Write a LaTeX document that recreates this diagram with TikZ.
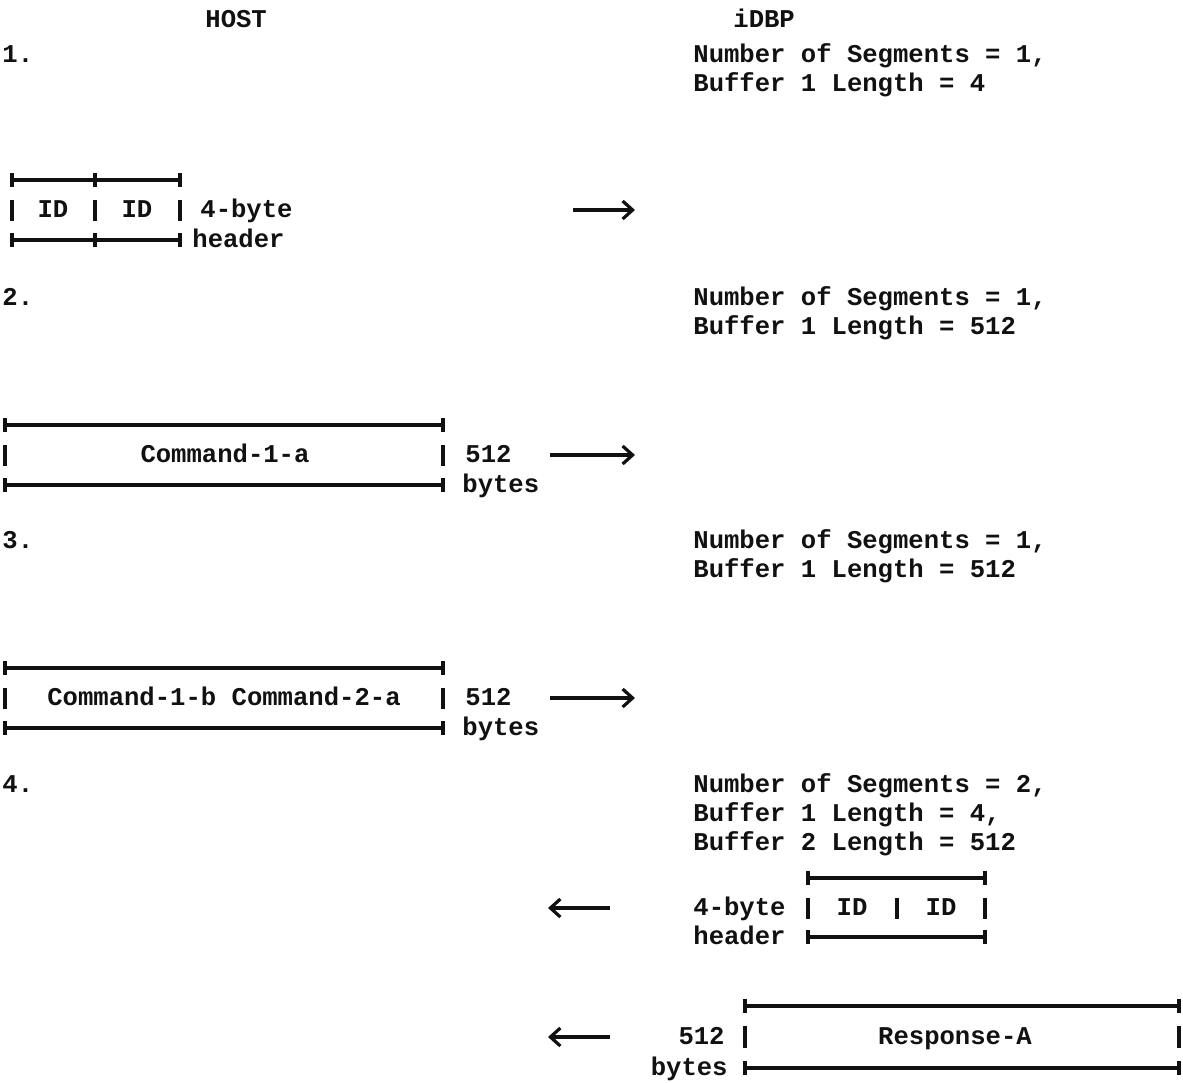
\documentclass[tikz,border=0pt]{standalone}
\usepackage{fontspec}
\setmonofont{Liberation Mono}
\usetikzlibrary{arrows.meta}

\definecolor{typeInk}{HTML}{111111}

\begin{document}
\begin{tikzpicture}[x=0.5pt, y=-0.5pt,
    txt/.style={font=\ttfamily\bfseries\fontsize{12.8}{14.5}\selectfont, text=typeInk, inner sep=0pt, anchor=mid west, yshift=-1.5pt},
    rule/.style={typeInk, line width=1.9pt},
    bar/.style={typeInk, line width=2pt},
    flow/.style={typeInk, line width=1.9pt, -{Straight Barb[length=5pt, width=9pt, line width=1.6pt]}}]
    \useasboundingbox (0,0) rectangle (1183,1082);

    % column titles
    \node[txt] (host) at (205,20) {HOST};
    \node[txt] (idbp) at (733,20) {iDBP};

    % step 1: 4-byte header
    \node[txt] (stepA) at (2,55) {1.};
    \node[txt] (segA) at (693,55) {Number of Segments = 1,};
    \node[txt] (bufA) at (693,84) {Buffer 1 Length = 4};
    \draw[rule] (12,180) -- (180,180) (12,240) -- (180,240);
    \draw[rule] (12,173) -- (12,187) (95,173) -- (95,187) (180,173) -- (180,187);
    \draw[rule] (12,233) -- (12,247) (95,233) -- (95,247) (180,233) -- (180,247);
    \draw[bar] (12,200) -- (12,221) (95,200) -- (95,221) (180,200) -- (180,221);
    \node[txt, anchor=mid] (idA1) at (53,210) {ID};
    \node[txt, anchor=mid] (idA2) at (137,210) {ID};
    \node[txt] (sizeA) at (200,210) {4-byte};
    \node[txt] (kindA) at (192,240) {header};
    \coordinate (fromA) at (573,210);
    \coordinate (toA) at (635,210);
    \draw[flow] (fromA) -- (toA);

    % step 2: first command block
    \node[txt] (stepB) at (2,298) {2.};
    \node[txt] (segB) at (693,298) {Number of Segments = 1,};
    \node[txt] (bufB) at (693,327) {Buffer 1 Length = 512};
    \draw[rule] (5,425) -- (443,425) (5,485) -- (443,485);
    \draw[rule] (5,418) -- (5,432) (443,418) -- (443,432);
    \draw[rule] (5,478) -- (5,492) (443,478) -- (443,492);
    \draw[bar] (5,445) -- (5,466) (443,445) -- (443,466);
    \node[txt, anchor=mid] (cmdB) at (225,455) {Command-1-a};
    \node[txt] (sizeB) at (465,455) {512};
    \node[txt] (unitB) at (462,485) {bytes};
    \coordinate (fromB) at (550,455);
    \coordinate (toB) at (635,455);
    \draw[flow] (fromB) -- (toB);

    % step 3: second command block
    \node[txt] (stepC) at (2,541) {3.};
    \node[txt] (segC) at (693,541) {Number of Segments = 1,};
    \node[txt] (bufC) at (693,570) {Buffer 1 Length = 512};
    \draw[rule] (5,668) -- (443,668) (5,728) -- (443,728);
    \draw[rule] (5,661) -- (5,675) (443,661) -- (443,675);
    \draw[rule] (5,721) -- (5,735) (443,721) -- (443,735);
    \draw[bar] (5,688) -- (5,709) (443,688) -- (443,709);
    \node[txt, anchor=mid] (cmdC) at (224,698) {Command-1-b Command-2-a};
    \node[txt] (sizeC) at (465,698) {512};
    \node[txt] (unitC) at (462,728) {bytes};
    \coordinate (fromC) at (550,698);
    \coordinate (toC) at (635,698);
    \draw[flow] (fromC) -- (toC);

    % step 4: header and response back to host
    \node[txt] (stepD) at (2,785) {4.};
    \node[txt] (segD) at (693,785) {Number of Segments = 2,};
    \node[txt] (bufD1) at (693,814) {Buffer 1 Length = 4,};
    \node[txt] (bufD2) at (693,843) {Buffer 2 Length = 512};
    \draw[rule] (808,878) -- (985,878) (808,937) -- (985,937);
    \draw[rule] (808,871) -- (808,885) (985,871) -- (985,885);
    \draw[rule] (808,930) -- (808,944) (985,930) -- (985,944);
    \draw[bar] (808,898) -- (808,919) (897,898) -- (897,919) (985,898) -- (985,919);
    \node[txt, anchor=mid] (idD1) at (852,908) {ID};
    \node[txt, anchor=mid] (idD2) at (941,908) {ID};
    \node[txt] (sizeD) at (693,908) {4-byte};
    \node[txt] (kindD) at (693,937) {header};
    \coordinate (fromD) at (610,908);
    \coordinate (toD) at (548,908);
    \draw[flow] (fromD) -- (toD);

    \draw[rule] (745,1006) -- (1179,1006) (745,1068) -- (1179,1068);
    \draw[rule] (745,999) -- (745,1013) (1179,999) -- (1179,1013);
    \draw[rule] (745,1061) -- (745,1075) (1179,1061) -- (1179,1075);
    \draw[bar] (745,1026) -- (745,1048) (1179,1026) -- (1179,1048);
    \node[txt, anchor=mid] (respE) at (955,1037) {Response-A};
    \node[txt, anchor=mid east] (sizeE) at (725,1037) {512};
    \node[txt, anchor=mid east] (unitE) at (728,1068) {bytes};
    \coordinate (fromE) at (610,1037);
    \coordinate (toE) at (548,1037);
    \draw[flow] (fromE) -- (toE);
\end{tikzpicture}
\end{document}
